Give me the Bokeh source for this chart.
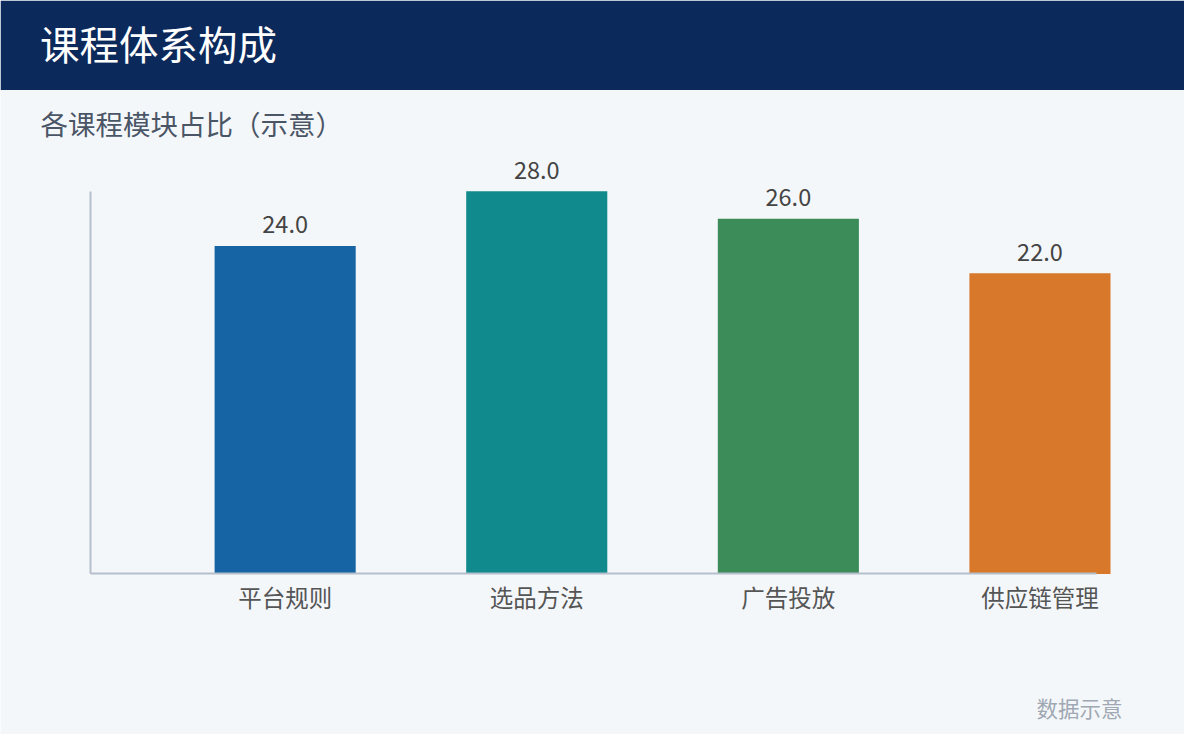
from bokeh.plotting import figure
from bokeh.models import (ColumnDataSource, Range1d, FixedTicker, Label, LabelSet,
                          LinearAxis, BoxAnnotation)
from bokeh.core.properties import value
from bokeh.embed import file_html
from bokeh.resources import INLINE

# ---- data ----
categories = ["平台规则", "选品方法", "广告投放", "供应链管理"]
shares = [24.0, 28.0, 26.0, 22.0]
bar_colors = ["#1664A3", "#108A8C", "#3C8C5A", "#D7782A"]
title_text = "课程体系构成"
subtitle_text = "各课程模块占比（示意）"
footer_text = "数据示意"

# ---- layout (reference 1200x750 scaled into 1184x734) ----
W, H = 1184, 734
SX, SY = W / 1200, H / 750
FONT = "Noto Sans CJK SC"
NAVY = "#0C295B"
BG = "#F4F7FA"
AXIS_C = "#B4BFCB"

cat_px = 255 * SX              # px between categories
first_center = 288.5 * SX      # px of first category centre
axis_left_px = 91 * SX
axis_right_px = 1111 * SX
base_px = 586 * SY             # px (from top) of value 0
top_px = 195 * SY              # px (from top) of value 28
unit_px = (base_px - top_px) / 28.0

x_start = -first_center / cat_px
x_end = x_start + W / cat_px
y_start = -(H - base_px) / unit_px
y_end = y_start + H / unit_px


def dx(px):
    return x_start + px / cat_px


def dy(py):
    return y_end - py / unit_px


p = figure(width=W, height=H, x_range=Range1d(x_start, x_end), y_range=Range1d(y_start, y_end),
           toolbar_location=None, output_backend="svg", min_border=0,
           x_axis_location=None, y_axis_location=None,
           background_fill_color=BG, border_fill_color=BG, outline_line_color=None)
p.grid.visible = False

# header band
p.add_layout(BoxAnnotation(bottom=dy(89.5), fill_color=NAVY, fill_alpha=1.0,
                           line_color=None, level="underlay"))

idx = list(range(len(categories)))
src = ColumnDataSource(dict(x=idx, top=shares, color=bar_colors,
                            label=[f"{v:.1f}" for v in shares]))

p.vbar(x="x", top="top", bottom=0, width=143 * SX / cat_px, fill_color="color",
       line_color=None, source=src)

xa = LinearAxis(fixed_location=0, ticker=FixedTicker(ticks=idx),
                major_label_overrides={i: c for i, c in zip(idx, categories)},
                major_tick_line_color=None, minor_tick_line_color=None,
                major_tick_out=0, major_tick_in=0, minor_tick_out=0, minor_tick_in=0,
                axis_line_color=AXIS_C, axis_line_width=2,
                bounds=(dx(axis_left_px), dx(axis_right_px)),
                major_label_text_font=FONT, major_label_text_font_size="23.5px",
                major_label_text_color="#555555", major_label_standoff=6)
p.add_layout(xa, "below")

ya = LinearAxis(fixed_location=dx(axis_left_px), ticker=FixedTicker(ticks=[]),
                major_tick_line_color=None, minor_tick_line_color=None,
                axis_line_color=AXIS_C, axis_line_width=2, bounds=(0, 28))
p.add_layout(ya, "left")

p.add_layout(LabelSet(x="x", y="top", text="label", source=src, y_offset=13 * SY,
                      text_align="center", text_baseline="alphabetic",
                      text_font=value(FONT), text_font_size=value("23.5px"),
                      text_color=value("#444444")))

p.add_layout(Label(x=dx(40 * SX), y=dy(43 * SY), text=title_text,
                   text_font=FONT, text_font_size="39.5px", text_color="white",
                   text_baseline="middle", text_align="left"))
p.add_layout(Label(x=dx(40.5 * SX), y=dy(125 * SY), text=subtitle_text,
                   text_font=FONT, text_font_size="27.5px", text_color="#4A5566",
                   text_baseline="middle", text_align="left"))
p.add_layout(Label(x=dx(1050 * SX), y=dy(722 * SY), text=footer_text,
                   text_font=FONT, text_font_size="21.5px", text_color="#A0A8B3",
                   text_baseline="middle", text_align="left"))

open("out.html", "w").write(file_html(p, INLINE))
